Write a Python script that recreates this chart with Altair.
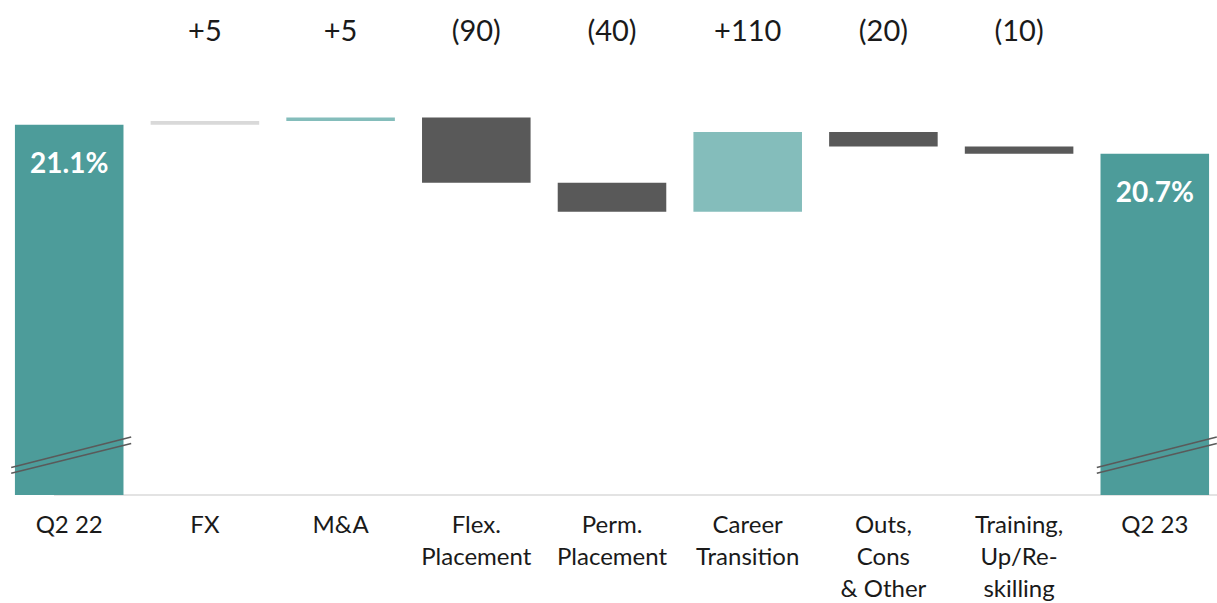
import altair as alt
import pandas as pd

# Margin bridge, in basis points
categories = ["Q2 22", "FX", "M&A", "Flex.\nPlacement", "Perm.\nPlacement",
              "Career\nTransition", "Outs,\nCons\n& Other",
              "Training,\nUp/Re-\nskilling", "Q2 23"]
kinds = ["total", "fx", "up", "down", "down", "up", "down", "down", "total"]
start_bps = 2110
deltas = [5, 5, -90, -40, 110, -20, -10]

FONT = "Lato"
TEAL = "#4d9c9a"
LIGHT_TEAL = "#84bdbb"
DARK = "#595959"
GREY = "#d9d9d9"

# Build the floating-bar table
rows = []
level = start_bps
rows.append(dict(cat=categories[0], kind=kinds[0], lo=1599, hi=level,
                 top=None, inside=f"{level/100:.1f}%"))
for c, k, d in zip(categories[1:-1], kinds[1:-1], deltas):
    new = level + d
    lbl = f"+{d}" if d > 0 else f"({-d})"
    rows.append(dict(cat=c, kind=k, lo=min(level, new), hi=max(level, new),
                     top=lbl, inside=None))
    level = new
rows.append(dict(cat=categories[-1], kind=kinds[-1], lo=1599, hi=level,
                 top=None, inside=f"{level/100:.1f}%"))
df = pd.DataFrame(rows)

x = alt.X("cat:N", sort=categories,
          scale=alt.Scale(range=[0, 1224], paddingInner=0.2, paddingOuter=0.11),
          axis=alt.Axis(title=None, labelAngle=0, ticks=False, domain=False,
                        labelFont=FONT, labelFontSize=24, labelColor="#1a1a1a",
                        labelPadding=18, labelBaseline="top", labelLineHeight=32,
                        labelExpr="split(datum.label, '\\n')",
                        labelOverlap=False, labelBound=False, labelFlush=False))
y_scale = alt.Scale(domain=[1599, 2282], nice=False, zero=False)
y = alt.Y("lo:Q", scale=y_scale, axis=None)

base = alt.Chart(df)

baseline = alt.Chart(pd.DataFrame({"v": [1599]})).mark_rule(
    color="#e3e3e3", strokeWidth=2
).encode(y=alt.Y("v:Q", scale=y_scale, axis=None),
         x=alt.value(54), x2=alt.value(1217))

bars = base.mark_bar().encode(
    x=x, y=y, y2="hi:Q",
    color=alt.Color("kind:N", legend=None,
                    scale=alt.Scale(domain=["total", "fx", "up", "down"],
                                    range=[TEAL, GREY, LIGHT_TEAL, DARK])),
)

# Axis-break marks across the total bars
breaks = base.transform_filter("datum.kind == 'total'").transform_calculate(
    a1="1637", b1="1679", a2="1629", b2="1670"
)
break1 = breaks.mark_rule(color="#5a5a5a", strokeWidth=1.5,
                          xOffset=-58, x2Offset=62).encode(
    x=x, x2="cat:N", y=alt.Y("a1:Q", scale=y_scale, axis=None), y2="b1:Q")
break2 = breaks.mark_rule(color="#5a5a5a", strokeWidth=1.5,
                          xOffset=-58, x2Offset=62).encode(
    x=x, x2="cat:N", y=alt.Y("a2:Q", scale=y_scale, axis=None), y2="b2:Q")

inside = base.transform_filter("datum.kind == 'total'").mark_text(
    font=FONT, fontSize=28, fontWeight="bold", color="white",
    baseline="middle", dy=40
).encode(x=x, y=alt.Y("hi:Q", scale=y_scale, axis=None), text="inside:N")

top = base.transform_filter("datum.kind != 'total'").mark_text(
    font=FONT, fontSize=29, color="#1a1a1a", baseline="middle"
).encode(x=x, y=alt.value(32), text="top:N")

chart = alt.layer(baseline, bars, break1, break2, inside, top).properties(
    width=1217, height=495,
    autosize=alt.AutoSizeParams(type="none"),
    padding={"left": 0, "top": 0, "right": 0, "bottom": 108},
).configure_view(stroke=None)

chart.save("out.html", embed_options={"renderer": "svg", "actions": False})
